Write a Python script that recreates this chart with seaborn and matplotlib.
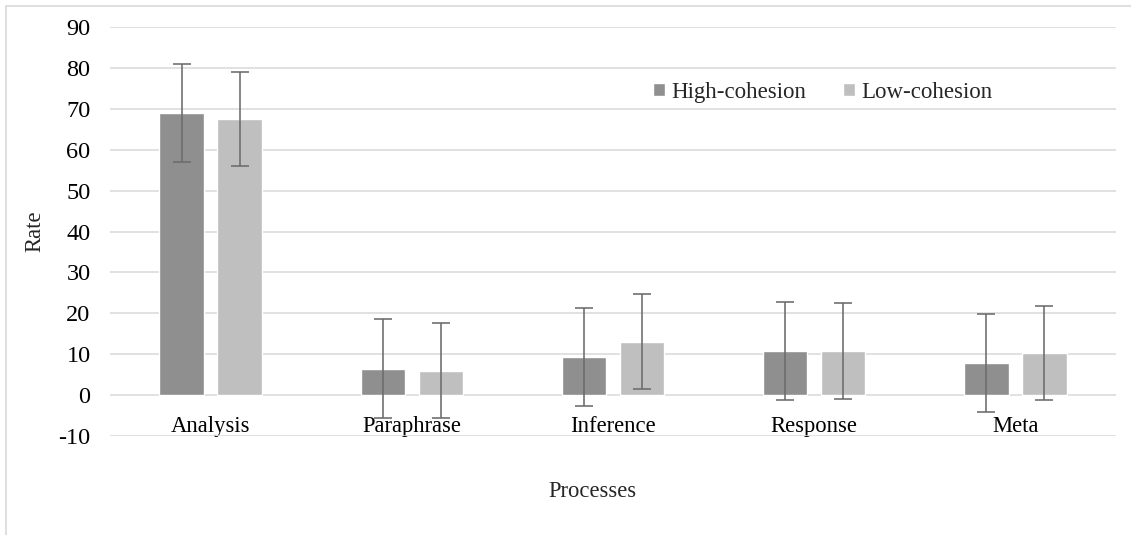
import matplotlib
matplotlib.use("Agg")
import matplotlib.pyplot as plt
import seaborn as sns
import pandas as pd
import numpy as np
from matplotlib.patches import Rectangle

# Mean rate per process and cohesion condition, with standard deviations
processes = ["Analysis", "Paraphrase", "Inference", "Response", "Meta"]
groups = ["High-cohesion", "Low-cohesion"]
high_mean = [68.9, 6.5, 9.3, 10.7, 7.9]
low_mean = [67.5, 6.0, 13.1, 10.8, 10.3]
high_sd = [12.0, 12.0, 12.0, 12.0, 12.0]
low_sd = [11.5, 11.7, 11.6, 11.7, 11.6]
y_ticks = [-10, 0, 10, 20, 30, 40, 50, 60, 70, 80, 90]

df = pd.DataFrame({
    "Processes": processes * 2,
    "Group": [groups[0]] * len(processes) + [groups[1]] * len(processes),
    "Rate": high_mean + low_mean,
    "SD": high_sd + low_sd,
})

sns.set_style("white")
plt.rcParams["font.family"] = ["Liberation Serif", "DejaVu Serif"]
plt.rcParams["axes.unicode_minus"] = False

fig = plt.figure(figsize=(11.31, 5.35), dpi=100)
ax = fig.add_axes([0.0973, 0.185, 0.8894, 0.7645])

palette = {groups[0]: "#8f8f8f", groups[1]: "#bfbfbf"}
sns.barplot(data=df, x="Processes", y="Rate", hue="Group", order=processes,
            hue_order=groups, palette=palette, errorbar=None, width=0.577,
            gap=0.236, saturation=1, ax=ax, zorder=2)

# error bars at the centre of each drawn bar
for container, grp in zip(ax.containers, groups):
    sub = df[df["Group"] == grp].set_index("Processes").loc[processes]
    xs = [p.get_x() + p.get_width() / 2 for p in container.patches]
    ax.errorbar(xs, sub["Rate"].values, yerr=sub["SD"].values, fmt="none",
                ecolor="#6b6b6b", elinewidth=1.15, capsize=6.5, capthick=1.15,
                zorder=3)

ax.set_ylim(-10, 90)
ax.set_xlim(-0.5, len(processes) - 0.5)
ax.set_yticks(y_ticks)
ax.yaxis.grid(True, color="#d9d9d9", linewidth=1.1, zorder=0)
ax.set_axisbelow(True)
for s in ["top", "right", "left"]:
    ax.spines[s].set_visible(False)
ax.spines["bottom"].set_position(("data", 0))
ax.spines["bottom"].set_visible(False)
ax.tick_params(axis="both", length=0, colors="black")
ax.tick_params(axis="y", pad=14, labelsize=17.5)
ax.tick_params(axis="x", pad=15, labelsize=16.3)

ax.set_xlabel("Processes", fontsize=16.3)
ax.xaxis.set_label_coords(0.48, -0.11)
ax.set_ylabel("Rate", fontsize=16.3)
ax.yaxis.set_label_coords(-0.064, 0.5)

handles, labels = ax.get_legend_handles_labels()
ax.legend(handles, labels, loc="center left", bbox_to_anchor=(0.540, 0.840),
          ncol=2, frameon=False, fontsize=16.5, handlelength=0.5,
          handleheight=0.5, handletextpad=0.3, columnspacing=1.6,
          borderpad=0, borderaxespad=0)

# chart area outline
fig.patches.append(Rectangle((0.0055, -0.1), 1.2, 1.1 - 0.011, transform=fig.transFigure,
                             fill=False, edgecolor="#d9d9d9", linewidth=1.2))

fig.savefig("out.png", dpi=100)
